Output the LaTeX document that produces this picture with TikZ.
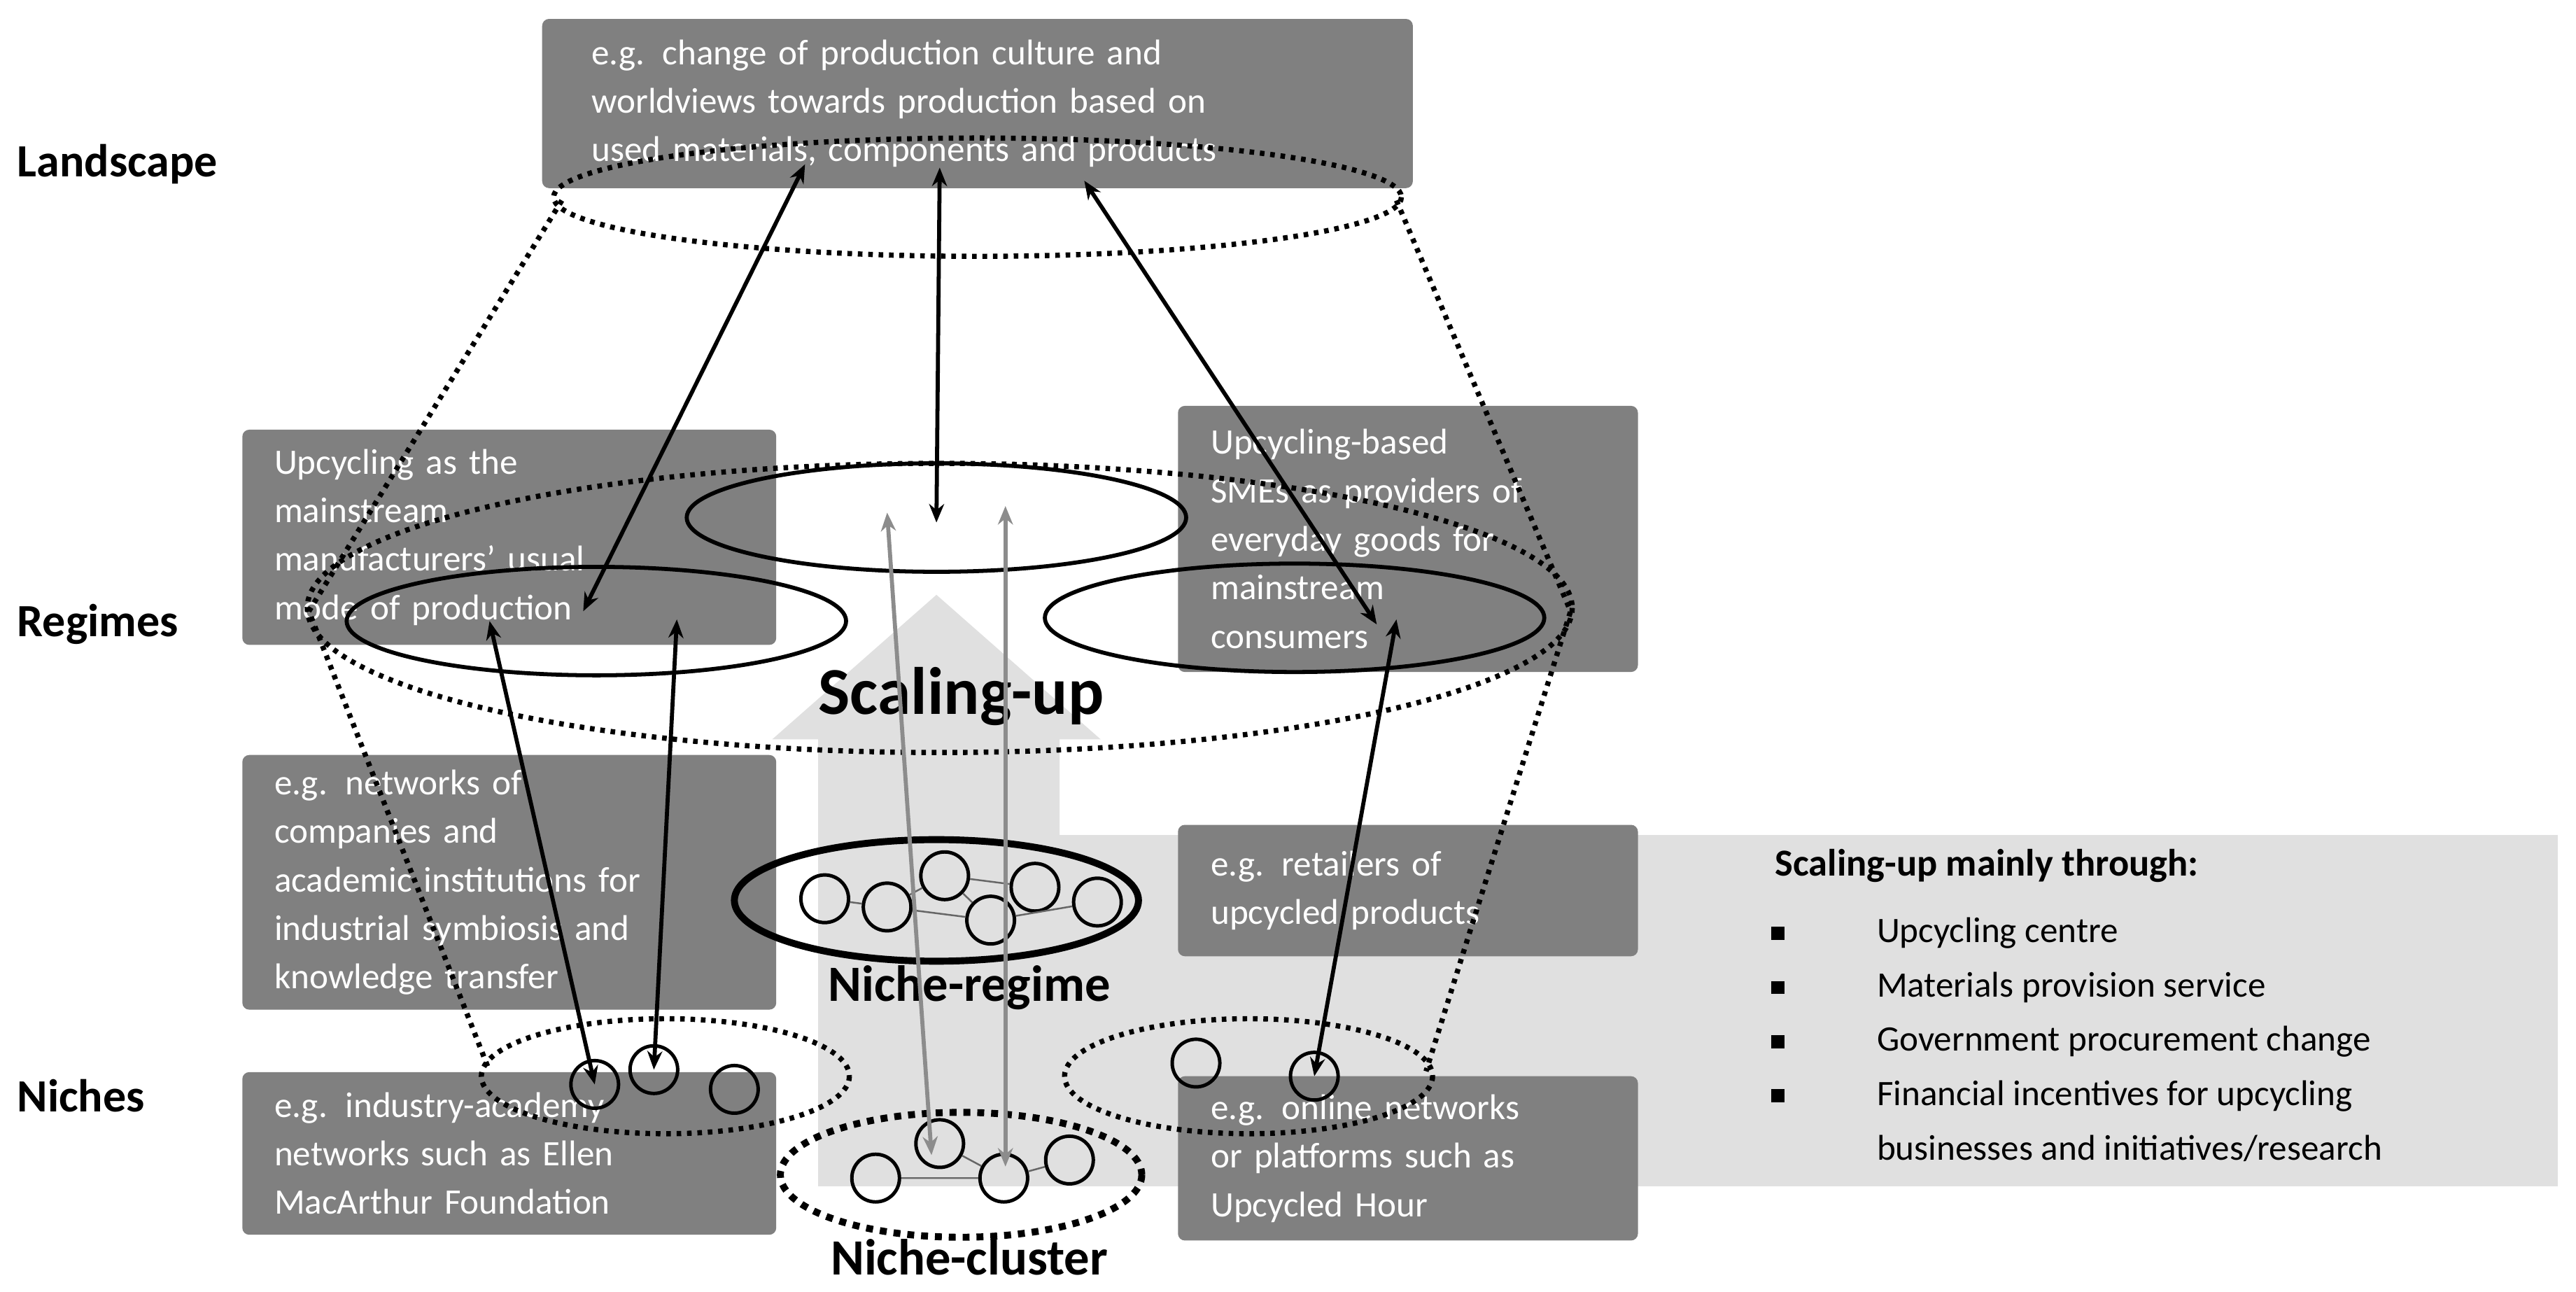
\documentclass[tikz,border=0pt]{standalone}
\usepackage{fontspec}
\setmainfont{Carlito}
\usetikzlibrary{arrows.meta,positioning}
\begin{document}
\begin{tikzpicture}[x=0.05cm,y=-0.05cm]
        \tikzset{box/.style={fill=black!50, rounded corners=6pt, text=white, align=left, inner sep=0pt,
            font=\fontsize{31}{42}\selectfont},
          lvl/.style={font=\fontsize{40}{48}\selectfont\bfseries, anchor=west},
          tag/.style={font=\fontsize{44}{52}\selectfont\bfseries},
          dot/.style={circle, draw, line width=3pt, minimum size=1.45cm, inner sep=0pt},
          dotted line/.style={line width=4.5pt, dash pattern=on 4pt off 5pt},
          connect/.style={{Stealth[length=16pt,width=13pt]}-{Stealth[length=16pt,width=13pt]}, line width=3.5pt},
          grey connect/.style={connect, draw=black!45},
          tie/.style={black!60, line width=1.5pt}}
        \useasboundingbox (0,0) rectangle (1568,786);
        % background band and arrow
        \fill[black!12] (645,508) rectangle (1557,722);
        \fill[black!12] (498,722) -- (498,450) -- (470,450) -- (570,362) -- (670,450) -- (645,450) -- (645,722) -- cycle;
        % levels
        \node[lvl] (landscape) at (8,100) {Landscape};
        \node[lvl] (regimes) at (8,380) {Regimes};
        \node[lvl] (niches) at (8,667) {Niches};
        % boxes
        \node[box, minimum width=26.5cm, minimum height=5.15cm, text width=23.5cm] (land) at (595,63)
          {e.g. change of production culture and\\worldviews towards production based on\\used materials, components and products};
        \node[box, minimum width=16.25cm, minimum height=6.55cm, text width=14.3cm] (mainstream) at (310,327)
          {Upcycling as the\\mainstream\\manufacturers' usual\\mode of production};
        \node[box, minimum width=14cm, minimum height=8.1cm, text width=12cm] (smes) at (857,328)
          {Upcycling-based\\SMEs as providers of\\everyday goods for\\mainstream\\consumers};
        \node[box, minimum width=16.25cm, minimum height=7.75cm, text width=14.3cm] (academic) at (310,537)
          {e.g. networks of\\companies and\\academic institutions for\\industrial symbiosis and\\knowledge transfer};
        \node[box, minimum width=14cm, minimum height=4cm, text width=12cm] (retail) at (857,542)
          {e.g. retailers of\\upcycled products};
        \node[box, minimum width=16.25cm, minimum height=4.95cm, text width=14.3cm] (industry) at (310,702)
          {e.g. industry-academy\\networks such as Ellen\\MacArthur Foundation};
        \node[box, minimum width=14cm, minimum height=5cm, text width=12cm] (online) at (857,705)
          {e.g. online networks\\or platforms such as\\Upcycled Hour};
        % dotted funnel
        \draw[dotted line] (595,120) ellipse [x radius=258, y radius=36];
        \draw[dotted line] (572,370) ellipse [x radius=385, y radius=88];
        \draw[dotted line] (405,655) ellipse [x radius=112, y radius=35];
        \draw[dotted line] (760,655) ellipse [x radius=112, y radius=35];
        \draw[dotted line] (342,122) -- (188,372) -- (298,652);
        \draw[dotted line] (850,122) -- (956,372) -- (868,652);
        % regime ellipses
        \draw[line width=3.5pt] (570,315) ellipse [x radius=152, y radius=33];
        \draw[line width=3.5pt] (363,378) ellipse [x radius=152, y radius=33];
        \draw[line width=3.5pt] (788,376) ellipse [x radius=152, y radius=33];
        % niche-regime
        \draw[line width=6pt] (570,548) ellipse [x radius=123, y radius=37];
        \node[dot] (r1) at (502,547) {};
        \node[dot] (r2) at (540,552) {};
        \node[dot] (r3) at (575,533) {};
        \node[dot] (r4) at (630,540) {};
        \node[dot] (r5) at (603,560) {};
        \node[dot] (r6) at (668,549) {};
        \draw[tie] (r1) -- (r2) -- (r3) -- (r4) (r3) -- (r5) -- (r6) (r2) -- (r5);
        \node[tag] (nregime) at (590,601) {Niche-regime};
        % niche-cluster
        \draw[line width=6pt, dash pattern=on 6pt off 6pt] (585,715) ellipse [x radius=110, y radius=38];
        \node[dot] (c1) at (533,717) {};
        \node[dot] (c2) at (572,696) {};
        \node[dot] (c3) at (611,717) {};
        \node[dot] (c4) at (651,706) {};
        \draw[tie] (c1) -- (c3) -- (c4) (c2) -- (c3);
        \node[tag] (ncluster) at (590,765) {Niche-cluster};
        % niches
        \node[dot] (n1) at (362,660) {};
        \node[dot] (n2) at (398,651) {};
        \node[dot] (n3) at (447,663) {};
        \node[dot] (n4) at (728,647) {};
        \node[dot] (n5) at (800,655) {};
        \node[font=\fontsize{58}{66}\selectfont\bfseries] (scaling) at (585,424) {Scaling-up};
        % list
        \node[anchor=west, font=\fontsize{33}{42}\selectfont\bfseries] (through) at (1078,527) {Scaling-up mainly through:};
        \foreach \y/\t [count=\i] in {568/Upcycling centre, 601/Materials provision service,
            634/Government procurement change, 667/Financial incentives for upcycling}
          {\node[anchor=west, font=\fontsize{31}{40}\selectfont] (item\i) at (1140,\y) {\t};
           \fill (1082,\y) ++(-4,-4) rectangle ++(8,8);}
        \node[anchor=west, font=\fontsize{31}{40}\selectfont] (item5) at (1140,699) {businesses and initiatives/research};
        % arrow ends
        \coordinate (a1) at (490,100); \coordinate (b1) at (355,372);
        \coordinate (a2) at (572,102); \coordinate (b2) at (570,318);
        \coordinate (a3) at (660,110); \coordinate (b3) at (838,380);
        \coordinate (a4) at (298,378); \coordinate (a5) at (412,377);
        \coordinate (a6) at (850,377);
        \coordinate (g1) at (540,312); \coordinate (h1) at (567,703);
        \coordinate (g2) at (612,308); \coordinate (h2) at (612,710);
        \path (g1) edge [grey connect] (h1)
        (g2) edge [grey connect] (h2)
        (a1) edge [connect] (b1)
        (a2) edge [connect] (b2)
        (a3) edge [connect] (b3)
        (a4) edge [connect] (n1.center)
        (a5) edge [connect] (n2.center)
        (a6) edge [connect] (n5.center);
      \end{tikzpicture}
\end{document}
